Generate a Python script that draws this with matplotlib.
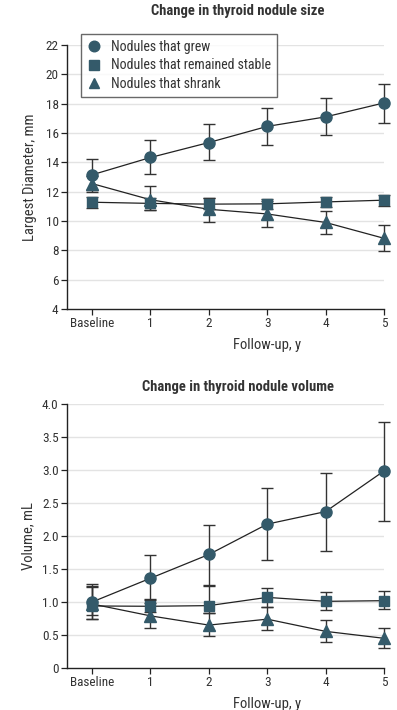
import matplotlib
matplotlib.use("Agg")
import matplotlib.pyplot as plt
from matplotlib import font_manager as fm
import numpy as np

names = {f.name for f in fm.fontManager.ttflist}
fam = 'DejaVu Sans'
for cand in ['Roboto Condensed', 'Liberation Sans Narrow', 'Open Sans Condensed', 'Roboto']:
    if cand in names:
        fam = cand
        break
plt.rcParams['font.family'] = [fam, 'DejaVu Sans']

x_labels = ["Baseline", "1", "2", "3", "4", "5"]
x = np.arange(len(x_labels))

series_names = ["Nodules that grew", "Nodules that remained stable", "Nodules that shrank"]
markers = ["o", "s", "^"]

# Size (mm): mean, lower, upper
size_grew = [13.15, 14.33, 15.35, 16.45, 17.1, 18.05]
size_grew_lo = [12.1, 13.2, 14.15, 15.2, 15.85, 16.7]
size_grew_hi = [14.2, 15.5, 16.6, 17.7, 18.4, 19.35]
size_stable = [11.28, 11.2, 11.15, 11.17, 11.3, 11.42]
size_stable_lo = [10.9, 10.75, 10.85, 10.85, 10.98, 11.05]
size_stable_hi = [11.67, 11.6, 11.6, 11.5, 11.67, 11.8]
size_shrank = [12.55, 11.45, 10.8, 10.48, 9.9, 8.82]
size_shrank_lo = [12.0, 10.75, 9.95, 9.62, 9.1, 7.97]
size_shrank_hi = [13.05, 12.4, 11.6, 11.35, 10.7, 9.7]

# Volume (mL): mean, lower, upper
vol_grew = [1.0, 1.36, 1.72, 2.18, 2.37, 2.985]
vol_grew_lo = [0.8, 1.05, 1.26, 1.63, 1.78, 2.23]
vol_grew_hi = [1.22, 1.71, 2.17, 2.73, 2.96, 3.73]
vol_stable = [0.94, 0.935, 0.945, 1.07, 1.01, 1.02]
vol_stable_lo = [0.74, 0.85, 0.83, 0.92, 0.88, 0.89]
vol_stable_hi = [1.28, 1.03, 1.24, 1.21, 1.15, 1.17]
vol_shrank = [0.97, 0.79, 0.65, 0.74, 0.555, 0.45]
vol_shrank_lo = [0.75, 0.6, 0.48, 0.57, 0.4, 0.3]
vol_shrank_hi = [1.25, 0.98, 0.83, 0.93, 0.72, 0.61]

size_ticks = [4, 6, 8, 10, 12, 14, 16, 18, 20, 22]
vol_ticks = [0, 0.5, 1.0, 1.5, 2.0, 2.5, 3.0, 3.5, 4.0]
vol_ticklabels = ["0", "0.5", "1.0", "1.5", "2.0", "2.5", "3.0", "3.5", "4.0"]

mcol = "#345a6a"
ecol = "#333333"
tcol = "#333333"

fig = plt.figure(figsize=(3.97, 7.10), dpi=100)
W, H = 397, 710
def pos(l, t, r, b):
    return [l / W, 1 - b / H, (r - l) / W, (b - t) / H]

ax1 = fig.add_axes(pos(67, 45, 384, 309))
ax2 = fig.add_axes(pos(67, 404, 384, 668))

def draw(ax, data, ticks, ticklabels, ylim, ylabel, ylab_x):
    handles = []
    for (m, lo, hi), mk, nm in zip(data, markers, series_names):
        m = np.array(m); lo = np.array(lo); hi = np.array(hi)
        ax.errorbar(x, m, yerr=[m - lo, hi - m], fmt='none', ecolor=ecol,
                    elinewidth=1.0, capsize=4, capthick=1.0, zorder=3, clip_on=False)
        ax.plot(x, m, color='#222222', lw=0.9, zorder=4, clip_on=False)
        ms = 8 if mk == 'o' else (8 if mk == '^' else 7.5)
        h, = ax.plot(x, m, linestyle='none', marker=mk, ms=ms, color=mcol,
                     markeredgecolor=mcol, zorder=5, clip_on=False, label=nm)
        handles.append(h)
    ax.set_xlim(-0.43, 5)
    ax.set_ylim(*ylim)
    ax.set_yticks(ticks)
    ax.set_yticklabels(ticklabels)
    ax.set_xticks(x)
    ax.set_xticklabels(x_labels)
    for t in ticks[1:]:
        ax.plot([-0.43, 5], [t, t], color='#e3e3e3', lw=1.0, zorder=1)
    for s in ['top', 'right']:
        ax.spines[s].set_visible(False)
    for s in ['left', 'bottom']:
        ax.spines[s].set_color('#222222')
        ax.spines[s].set_linewidth(1.0)
    ax.tick_params(direction='out', length=4, width=0.9, colors='#222222',
                   labelsize=9.5, labelcolor=tcol, pad=2)
    ax.set_ylabel(ylabel, fontsize=10.5, color=tcol)
    ax.yaxis.set_label_coords((ylab_x - 67) / 317, 0.5)
    ax.set_xlabel("Follow-up, y", fontsize=10.5, color=tcol)
    ax.xaxis.set_label_coords((267 - 67) / 317, -36 / 264)
    ax.xaxis.label.set_va('center')
    ax.yaxis.label.set_va('center')
    return handles

h = draw(ax1, [(size_grew, size_grew_lo, size_grew_hi),
               (size_stable, size_stable_lo, size_stable_hi),
               (size_shrank, size_shrank_lo, size_shrank_hi)],
         size_ticks, [str(t) for t in size_ticks], (4, 22), "Largest Diameter, mm", 30)

draw(ax2, [(vol_grew, vol_grew_lo, vol_grew_hi),
           (vol_stable, vol_stable_lo, vol_stable_hi),
           (vol_shrank, vol_shrank_lo, vol_shrank_hi)],
     vol_ticks, vol_ticklabels, (0, 4.0), "Volume, mL", 28)

fig.text(238 / W, 1 - 11 / H, "Change in thyroid nodule size", ha='center', va='center',
         fontsize=10.5, fontweight='bold', color=tcol)
fig.text(238 / W, 1 - 387 / H, "Change in thyroid nodule volume", ha='center', va='center',
         fontsize=10.5, fontweight='bold', color=tcol)

leg = fig.legend(handles=h, loc='upper left', bbox_to_anchor=(81 / W, 1 - 34 / H),
                 frameon=True, fancybox=False, fontsize=10, handlelength=1.0,
                 handletextpad=0.7, borderpad=0.45, labelspacing=0.3,
                 markerscale=0.95, borderaxespad=0)
leg.get_frame().set_edgecolor('#444444')
leg.get_frame().set_linewidth(1.0)
for t in leg.get_texts():
    t.set_color(tcol)

fig.savefig("out.png", dpi=100)
